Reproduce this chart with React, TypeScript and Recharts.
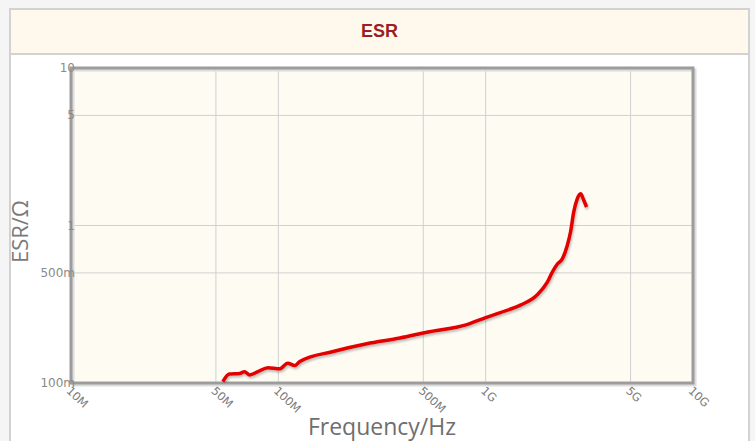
import React from 'react';
import {
  LineChart,
  Line,
  XAxis,
  YAxis,
  CartesianGrid,
  ReferenceArea,
} from 'recharts';

// frequency in MHz, ESR in ohm
const freqMHz = [
  54, 58, 65, 68.7, 72.6, 79.7, 89, 101.5, 111, 120, 127, 184, 267, 386, 520, 812,
  1000, 1177, 1470, 1770, 1980, 2094, 2213, 2339, 2473, 2566, 2660, 2765, 2870, 2976, 3067,
];
const esrOhm = [
  0.102, 0.114, 0.115, 0.118, 0.1125, 0.118, 0.125, 0.123, 0.1336, 0.129, 0.137, 0.1585, 0.1775,
  0.193, 0.21, 0.235, 0.26, 0.28, 0.312, 0.362, 0.435, 0.505, 0.568, 0.611, 0.743, 0.909, 1.22,
  1.477, 1.59, 1.44, 1.31,
];

const xTicks = [10, 50, 100, 500, 1000, 5000, 10000];
const xTickLabels = ['10M', '50M', '100M', '500M', '1G', '5G', '10G'];
const yTicks = [0.1, 0.5, 1, 5, 10];
const yTickLabels = ['100m', '500m', '1', '5', '10'];

const chartData = freqMHz.map((f, i) => ({ f, esr: esrOhm[i] }));

const XTick = (props: any) => {
  const { x, y, payload } = props;
  const label = xTickLabels[xTicks.indexOf(payload.value)];
  return (
    <text
      x={x + 2}
      y={y + 10}
      transform={`rotate(43, ${x}, ${y})`}
      textAnchor="start"
      fontSize={11.5}
      fill="#7a7a7a"
      fontFamily="'DejaVu Sans', sans-serif"
    >
      {label}
    </text>
  );
};

const YTick = (props: any) => {
  const { x, y, payload } = props;
  const label = yTickLabels[yTicks.indexOf(payload.value)];
  return (
    <text
      x={x + 4}
      y={y + 4}
      textAnchor="end"
      fontSize={12}
      fill="#8a8a8a"
      fontFamily="'DejaVu Sans', sans-serif"
    >
      {label}
    </text>
  );
};

const XLabel = (props: any) => {
  const vb = props.viewBox || { x: 71, y: 383, width: 622, height: 58 };
  return (
    <text
      x={vb.x + vb.width / 2}
      y={vb.y + vb.height - 6}
      textAnchor="middle"
      fontSize={23}
      fill="#6e6e6e"
      fontFamily="'Open Sans', sans-serif"
    >
      Frequency/Hz
    </text>
  );
};

const YLabel = (props: any) => {
  const vb = props.viewBox || { x: 0, y: 68, width: 71, height: 315 };
  const cx = vb.x + 28;
  const cy = vb.y + vb.height / 2 + 6;
  return (
    <text
      x={cx}
      y={cy}
      transform={`rotate(-90, ${cx}, ${cy})`}
      textAnchor="middle"
      fontSize={22}
      fill="#7a7a7a"
      fontFamily="'Open Sans', sans-serif"
    >
      ESR/Ω
    </text>
  );
};

const Frame = (props: any) => {
  const { x, y, width, height } = props;
  return (
    <g>
      <rect x={x + 2} y={y + 2} width={width} height={height} fill="none" stroke="#dcdcdc" strokeWidth={3} />
      <rect x={x} y={y} width={width} height={height} fill="none" stroke="#9c9c9c" strokeWidth={3} />
    </g>
  );
};

export default function App() {
  return (
    <div
      style={{
        position: 'absolute',
        left: 0,
        top: 0,
        width: 755,
        height: 441,
        background: '#f5f5f5',
        overflow: 'hidden',
      }}
    >
      <div
        style={{
          position: 'absolute',
          left: 9,
          top: 8,
          width: 741,
          height: 460,
          boxSizing: 'border-box',
          border: '2px solid #d2d2d2',
          background: '#fff',
        }}
      >
        <div
          style={{
            height: 43,
            background: '#fef9ec',
            borderBottom: '2px solid #d2d2d2',
            display: 'flex',
            alignItems: 'center',
            justifyContent: 'center',
            color: '#9b1f22',
            fontFamily: "'Liberation Sans', Arial, sans-serif",
            fontWeight: 'bold',
            fontSize: 18,
          }}
        >
          ESR
        </div>
      </div>
      <div style={{ position: 'absolute', left: 0, top: 0 }}>
        <LineChart
          width={755}
          height={441}
          data={chartData}
          margin={{ top: 68, right: 62, bottom: 0, left: 0 }}
        >
          <defs>
            <filter id="lineShadow" x="-5%" y="-5%" width="110%" height="120%">
              <feDropShadow dx="1" dy="2" stdDeviation="1" floodColor="#000" floodOpacity="0.25" />
            </filter>
          </defs>
          <CartesianGrid stroke="#d0d0d0" strokeWidth={1} fill="#fdfbf2" fillOpacity={1} />
          <XAxis
            dataKey="f"
            type="number"
            scale="log"
            domain={[10, 10000]}
            ticks={xTicks}
            allowDataOverflow
            height={58}
            tickSize={0}
            tickMargin={0}
            tickLine={false}
            axisLine={false}
            tick={<XTick />}
            interval={0}
            label={<XLabel />}
          />
          <YAxis
            type="number"
            scale="log"
            domain={[0.1, 10]}
            ticks={yTicks}
            allowDataOverflow
            width={71}
            tickSize={0}
            tickMargin={0}
            tickLine={false}
            axisLine={false}
            tick={<YTick />}
            interval={0}
            label={<YLabel />}
          />
          <Line
            type="monotone"
            dataKey="esr"
            stroke="#e20000"
            strokeWidth={3.5}
            dot={false}
            activeDot={false}
            isAnimationActive={false}
            filter="url(#lineShadow)"
          />
          <ReferenceArea x1={10} x2={10000} y1={0.1} y2={10} shape={<Frame />} />
        </LineChart>
      </div>
    </div>
  );
}
